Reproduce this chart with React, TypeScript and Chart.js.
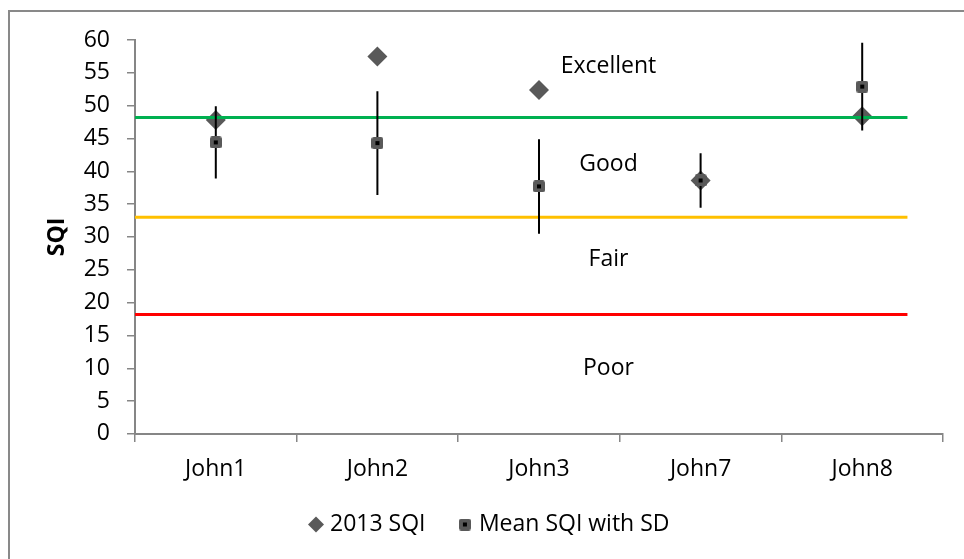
import React, { useEffect, useRef } from 'react';
import { Chart, registerables } from 'chart.js';

Chart.register(...registerables);

// ---- data ----
const categories = ['John1', 'John2', 'John3', 'John7', 'John8'];
const sqi2013 = [47.8, 57.5, 52.4, 38.6, 48.4];
const meanSqi = [44.4, 44.3, 37.7, 38.6, 52.9];
const sdSqi = [5.5, 7.9, 7.2, 4.15, 6.7];
const thresholds = [48.2, 33, 18.2];
const thresholdColors = ['#00b050', '#ffc000', '#ff0000'];
const zoneNames = ['Excellent', 'Good', 'Fair', 'Poor'];
const zoneLabelY = [55.95, 41.05, 26.55, 9.95];
const zoneLabelX = 2.43;
const lineStart = -0.5;
const lineEnd = 4.28;
const yMin = 0;
const yMax = 60;
const yStep = 5;

const FONT = '"Open Sans", "Noto Sans", sans-serif';
const AXIS_GRAY = '#868686';

function makeMeanMarker(): HTMLCanvasElement {
  const c = document.createElement('canvas');
  c.width = 12;
  c.height = 12;
  const g = c.getContext('2d')!;
  g.fillStyle = '#595959';
  g.beginPath();
  if ((g as any).roundRect) (g as any).roundRect(0, 0, 12, 12, 2.5);
  else g.rect(0, 0, 12, 12);
  g.fill();
  g.fillStyle = '#000000';
  g.fillRect(4, 4, 4, 4);
  return c;
}

const zoneLabelPlugin = {
  id: 'zoneLabels',
  afterDatasetsDraw(chart: any) {
    const { ctx, scales } = chart;
    const x = scales.x;
    const y = scales.y;
    ctx.save();
    ctx.font = `23px ${FONT}`;
    ctx.fillStyle = '#000000';
    ctx.textAlign = 'center';
    ctx.textBaseline = 'middle';
    zoneNames.forEach((t, i) => {
      ctx.fillText(t, x.getPixelForValue(zoneLabelX), y.getPixelForValue(zoneLabelY[i]));
    });
    ctx.restore();
  },
};

export default function App() {
  const canvasRef = useRef<HTMLCanvasElement | null>(null);

  useEffect(() => {
    let chart: Chart | null = null;
    let cancelled = false;

    const build = () => {
      if (cancelled || !canvasRef.current) return;
      const meanMarker = makeMeanMarker();

      const lineDatasets = thresholds.map((t, i) => ({
        label: '',
        data: [
          { x: lineStart, y: t },
          { x: lineEnd, y: t },
        ],
        showLine: true,
        borderColor: thresholdColors[i],
        backgroundColor: thresholdColors[i],
        borderWidth: 3,
        pointRadius: 0,
        order: 3,
      }));

      const errorData: any[] = [];
      meanSqi.forEach((m, i) => {
        errorData.push({ x: i, y: m - sdSqi[i] });
        errorData.push({ x: i, y: m + sdSqi[i] });
        errorData.push({ x: i, y: null });
      });

      chart = new Chart(canvasRef.current, {
        type: 'scatter',
        data: {
          datasets: [
            {
              label: '2013 SQI',
              data: sqi2013.map((v, i) => ({ x: i, y: v })),
              pointStyle: 'rectRot',
              pointRadius: 10,
              pointBackgroundColor: '#595959',
              backgroundColor: '#595959',
              borderColor: '#595959',
              pointBorderWidth: 0,
              borderWidth: 0,
              order: 5,
            } as any,
            ...lineDatasets,
            {
              label: '',
              data: errorData,
              showLine: true,
              spanGaps: false,
              borderColor: '#000000',
              borderWidth: 2,
              pointRadius: 0,
              order: 2,
            } as any,
            {
              label: 'Mean SQI with SD',
              data: meanSqi.map((v, i) => ({ x: i, y: v })),
              pointStyle: meanMarker,
              pointRadius: 6,
              backgroundColor: '#000000',
              borderColor: '#595959',
              borderWidth: 0,
              order: 1,
            } as any,
          ],
        },
        options: {
          animation: false,
          responsive: true,
          maintainAspectRatio: false,
          layout: { padding: { left: 40, right: 21, top: 40, bottom: 13 } },
          plugins: {
            tooltip: { enabled: false },
            legend: {
              display: true,
              position: 'bottom',
              labels: {
                usePointStyle: true,
                boxWidth: 5,
                boxHeight: 11.3,
                padding: 19,
                color: '#000000',
                font: { family: FONT, size: 23 },
                filter: (item: any) => !!item.text,
                sort: (a: any, b: any) => a.datasetIndex - b.datasetIndex,
                generateLabels: (ch: any) => {
                  const items = Chart.defaults.plugins.legend.labels.generateLabels(ch);
                  items.forEach((it: any) => {
                    if (it.text === 'Mean SQI with SD') {
                      it.pointStyle = meanMarker;
                    }
                    if (it.text === '2013 SQI') {
                      it.lineWidth = 0;
                      it.fillStyle = '#595959';
                      it.text = '2013 SQI   ';
                    }
                  });
                  return items;
                },
              },
            },
          },
          scales: {
            x: {
              type: 'linear',
              display: false,
              min: -0.5,
              max: 4.5,
            },
            xc: {
              type: 'category',
              position: 'bottom',
              labels: categories,
              offset: true,
              afterFit: (scale: any) => {
                scale.height = scale.height - 3.5;
              },
              grid: {
                offset: true,
                drawOnChartArea: false,
                drawTicks: true,
                tickLength: 8,
                color: AXIS_GRAY,
                lineWidth: 1.5,
              },
              border: { display: true, color: AXIS_GRAY, width: 2 },
              ticks: {
                color: '#000000',
                padding: 14,
                maxRotation: 0,
                font: { family: FONT, size: 23 },
              },
            },
            y: {
              type: 'linear',
              min: yMin,
              max: yMax,
              afterFit: (scale: any) => {
                scale.width = 95;
              },
              ticks: {
                stepSize: yStep,
                color: '#000000',
                padding: 17,
                font: { family: FONT, size: 23 },
              },
              grid: {
                drawOnChartArea: false,
                drawTicks: true,
                tickLength: 8,
                color: AXIS_GRAY,
                lineWidth: 1.5,
              },
              border: { display: true, color: AXIS_GRAY, width: 2 },
              title: {
                display: true,
                text: 'SQI',
                color: '#000000',
                padding: { top: 4, bottom: 0 },
                font: { family: FONT, size: 23, weight: 'bold' },
              },
            },
          },
        } as any,
        plugins: [zoneLabelPlugin],
      });
    };

    const fontsReady = (document as any).fonts
      ? Promise.all([
          (document as any).fonts.load(`23px "Open Sans"`),
          (document as any).fonts.load(`bold 23px "Open Sans"`),
        ]).catch(() => null)
      : Promise.resolve(null);
    fontsReady.then(build);

    return () => {
      cancelled = true;
      if (chart) chart.destroy();
    };
  }, []);

  return (
    <>
      <style>{'body{margin:0;overflow:hidden;}'}</style>
      <div style={{ position: 'relative', width: 964, height: 559, overflow: 'hidden', background: '#ffffff' }}>
        <div
          style={{
            position: 'absolute',
            left: 8,
            top: 10,
            width: 1000,
            height: 600,
            border: '2px solid #898989',
            boxSizing: 'border-box',
          }}
        />
        <div style={{ position: 'absolute', left: 0, top: 0, width: 964, height: 559 }}>
          <canvas ref={canvasRef} />
        </div>
      </div>
    </>
  );
}
